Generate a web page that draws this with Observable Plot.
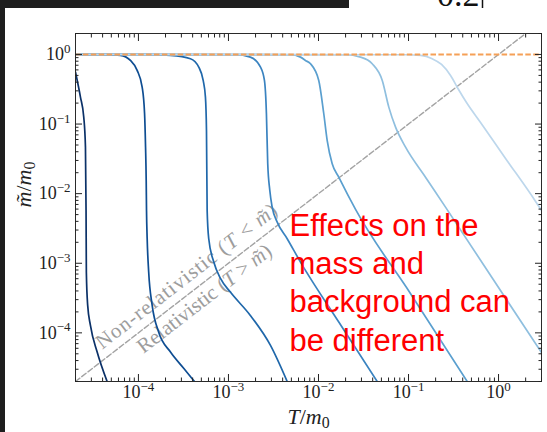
<!DOCTYPE html>
<html><head><meta charset="utf-8">
<script src="https://cdn.jsdelivr.net/npm/d3@7"></script>
<script src="https://cdn.jsdelivr.net/npm/@observablehq/plot@0.6"></script>
<style>
html,body{margin:0;padding:0;background:#fff;}
#wrap{position:relative;width:547px;height:432px;overflow:hidden;background:#fff;}
#chart svg{display:block;}
.dark{position:absolute;background:#1e1e1e;}
</style></head><body>
<div id="wrap">
<div id="chart"></div>
<div class="dark" style="left:0;top:0;width:5px;height:432px"></div>
<div class="dark" style="left:0;top:0;width:349px;height:8px"></div>
<svg style="position:absolute;left:349px;top:0" width="198" height="8"><text x="88" y="6" font-family="Liberation Serif" font-size="34" fill="#111">0.2</text><line x1="133.5" y1="0" x2="133.5" y2="8" stroke="#111" stroke-width="1.5"/></svg>
</div>
<script>
// ---- data ----
const curveColors = ["#0b3168", "#0e4d92", "#1f67aa", "#3a83c0", "#5a9fcf", "#8fbfdf", "#bdd7ec"];

const t1 = [2.0e-5, 2.27e-5, 2.47e-5, 2.58e-5, 2.62e-5, 2.64e-5, 2.73e-5, 2.93e-5, 3.48e-5, 4.49e-5];
const m1 = [0.557, 0.244, 0.126, 0.0466, 5.7e-3, 7.4e-4, 2.5e-4, 1.28e-4, 5.3e-5, 2.0e-5];

const t2 = [2.0e-5, 4.0e-5, 6.31e-5, 8.15e-5, 9.68e-5, 1.10e-4, 1.17e-4, 1.20e-4, 1.22e-4, 1.23e-4, 1.25e-4, 1.30e-4, 1.42e-4, 1.68e-4, 2.27e-4, 3.18e-4, 4.19e-4];
const m2 = [1.0, 0.998, 0.97, 0.82, 0.59, 0.34, 0.142, 0.0466, 0.0155, 5.7e-3, 2.3e-3, 7.5e-4, 2.5e-4, 1.02e-4, 5.3e-5, 3.1e-5, 2.0e-5];

const t3 = [2.0e-5, 1.2e-4, 2.27e-4, 3.78e-4, 4.68e-4, 5.24e-4, 5.55e-4, 5.70e-4, 5.80e-4, 6.04e-4, 6.87e-4, 8.15e-4, 1.05e-3, 1.75e-3, 2.93e-3, 4.49e-3];
const m3 = [1.0, 0.998, 0.967, 0.867, 0.657, 0.423, 0.244, 0.081, 5.7e-3, 2.25e-3, 1.04e-3, 6.05e-4, 3.85e-4, 1.78e-4, 6.6e-5, 2.0e-5];

const t4 = [2.0e-5, 1.2e-3, 1.75e-3, 2.27e-3, 2.51e-3, 2.64e-3, 2.73e-3, 2.88e-3, 3.06e-3, 3.48e-3, 4.49e-3, 6.31e-3, 1.68e-2, 4.49e-2];
const m4 = [1.0, 0.99, 0.915, 0.657, 0.423, 0.142, 0.0272, 0.0111, 6.4e-3, 3.9e-3, 2.25e-3, 1.04e-3, 1.43e-4, 2.0e-5];

const t5 = [2.0e-5, 4.88e-3, 6.31e-3, 7.17e-3, 8.15e-3, 1.007e-2, 1.145e-2, 1.25e-2, 1.42e-2, 1.68e-2, 2.58e-2, 0.105, 0.449];
const m5 = [1.0, 0.99, 0.915, 0.82, 0.735, 0.423, 0.1406, 0.058, 0.0269, 0.01726, 5.93e-3, 3.68e-4, 2.0e-5];

const t6 = [2.0e-5, 0.01995, 0.0293, 0.0395, 0.0511, 0.0604, 0.0718, 0.0927, 0.1545, 0.2576, 3.0];
const m6 = [1.0, 0.99, 0.915, 0.735, 0.423, 0.175, 0.0902, 0.0466, 0.01726, 6.4e-3, 5.2e-5];

const t7 = [2.0e-5, 0.0927, 0.136, 0.1833, 0.2327, 0.293, 0.3594, 0.4406, 0.631, 1.196, 2.58, 3.0];
const m7 = [1.0, 0.99, 0.967, 0.867, 0.718, 0.499, 0.314, 0.204, 0.1054, 0.0321, 7.73e-3, 5.74e-3];

const diagonal = [2e-5, 3];          // the T = m~ line
const massLevel = [1];               // m~ = m0
const xMajor = [1e-4, 1e-3, 1e-2, 1e-1, 1];
const yMajor = [1e-4, 1e-3, 1e-2, 1e-1, 1];
const xDomain = [2e-5, 3];
const yDomain = [2e-5, 2];
const xTitle = "*T*/*m*_{0}";
const yTitle = "*m̃*/*m*_{0}";
const nonRelLabel = "Non-relativistic (*T* < *m̃*)";
const relLabel = "Relativistic (*T* > *m̃*)";
const note = "Effects on the\nmass and\nbackground can\nbe different";

// ---- build ----
const curves = [[t1, m1], [t2, m2], [t3, m3], [t4, m4], [t5, m5], [t6, m6], [t7, m7]];
const curveRows = curves.map(([T, M]) => T.map((t, j) => ({T: t, M: M[j]})));
const isMajor = (arr) => (v) => arr.some(M => Math.abs(M - v) / M < 1e-9);
const xMinor = d3.scaleLog().domain(xDomain).ticks().filter(v => !isMajor(xMajor)(v));
const yMinor = d3.scaleLog().domain(yDomain).ticks().filter(v => !isMajor(yMajor)(v));
const fmt = d => { const e = Math.round(Math.log10(d)); return "10^{" + (e < 0 ? "\u2212" + (-e) : e) + "}"; };

const dash = "5.5,2.4";
const plot = Plot.plot({
  width: 547, height: 432,
  marginLeft: 75, marginRight: 6, marginTop: 33, marginBottom: 51,
  x: {type: "log", domain: xDomain},
  y: {type: "log", domain: yDomain},
  style: {fontFamily: "'Liberation Serif', serif", fontSize: "18px", background: "transparent", color: "#222"},
  marks: [
    Plot.line(diagonal, {x: d => d, y: d => d, stroke: "#a3a3a3", strokeWidth: 1.4, strokeDasharray: dash, clip: true}),
    Plot.text([nonRelLabel], {x: () => 4.4e-4, y: () => 4.4e-4, text: d => d, rotate: -37.7, lineAnchor: "bottom",
      dx: -5.4, dy: -7.0, fill: "#9d9d9d", fontSize: 21}),
    Plot.text([relLabel], {x: () => 4.4e-4, y: () => 4.4e-4, text: d => d, rotate: -37.7, lineAnchor: "top",
      dx: 3.0, dy: 3.9, fill: "#9d9d9d", fontSize: 21}),
    ...curveRows.map((rows, i) => Plot.line(rows, {x: "T", y: "M", stroke: curveColors[i], strokeWidth: 1.7, curve: "monotone-x", clip: true})),
    Plot.ruleY(massLevel, {stroke: "#f5a057", strokeWidth: 1.9, strokeDasharray: dash}),
    Plot.frame({stroke: "#2a2a2a", strokeWidth: 1}),
    Plot.axisX(xMajor, {anchor: "bottom", tickSize: -7, tickPadding: 11, tickFormat: fmt, label: null}),
    Plot.axisX(xMinor, {anchor: "bottom", tickSize: -3.5, fill: "none", label: null}),
    Plot.axisX(xMajor, {anchor: "top", tickSize: -7, fill: "none", label: null}),
    Plot.axisX(xMinor, {anchor: "top", tickSize: -3.5, fill: "none", label: null}),
    Plot.axisY(yMajor, {anchor: "left", tickSize: -7, tickPadding: 12, tickFormat: fmt, label: null}),
    Plot.axisY(yMinor, {anchor: "left", tickSize: -3.5, fill: "none", label: null}),
    Plot.axisY(yMajor, {anchor: "right", tickSize: -7, fill: "none", label: null}),
    Plot.axisY(yMinor, {anchor: "right", tickSize: -3.5, fill: "none", label: null}),
    Plot.text([xTitle], {text: d => d, frameAnchor: "bottom", lineAnchor: "bottom", dy: 42, fontSize: 22, fill: "#222"}),
    Plot.text([yTitle], {text: d => d, frameAnchor: "left", rotate: -90, lineAnchor: "bottom", dx: -45, fontSize: 22, fill: "#222"}),
    Plot.text([note], {text: d => d, frameAnchor: "top-left", textAnchor: "start", lineAnchor: "top", dx: 214, dy: 176,
      fontSize: 31, lineHeight: 1.226, fill: "#ff0000", fontFamily: "'Liberation Sans', Arial, sans-serif"})
  ]
});
document.getElementById("chart").append(plot);

// rich text: *italic*, ^{sup}, _{sub}
function richify(svg) {
  const ns = "http://www.w3.org/2000/svg";
  svg.querySelectorAll("text").forEach(t => {
    if (t.children.length) return;
    const s = t.textContent;
    if (!/[\^_*]/.test(s)) return;
    const fs = parseFloat(getComputedStyle(t).fontSize) || 18;
    t.textContent = "";
    const re = /\*([^*]+)\*|\^\{([^}]*)\}|_\{([^}]*)\}|([^*^_]+)/g;
    let m, shift = 0;
    while ((m = re.exec(s))) {
      const sp = document.createElementNS(ns, "tspan");
      let target = 0, txt;
      if (m[1] !== undefined) { txt = m[1]; sp.setAttribute("font-style", "italic"); }
      else if (m[2] !== undefined) { txt = m[2]; target = -0.4 * fs; sp.setAttribute("font-size", (0.72 * fs).toFixed(2)); }
      else if (m[3] !== undefined) { txt = m[3]; target = 0.22 * fs; sp.setAttribute("font-size", (0.72 * fs).toFixed(2)); }
      else txt = m[4];
      if (target !== shift) { sp.setAttribute("dy", (target - shift).toFixed(2)); shift = target; }
      sp.textContent = txt;
      t.appendChild(sp);
    }
    if (s.includes("relativistic")) t.setAttribute("letter-spacing", "1.0");
  });
}
richify(plot);
</script>
</body></html>
